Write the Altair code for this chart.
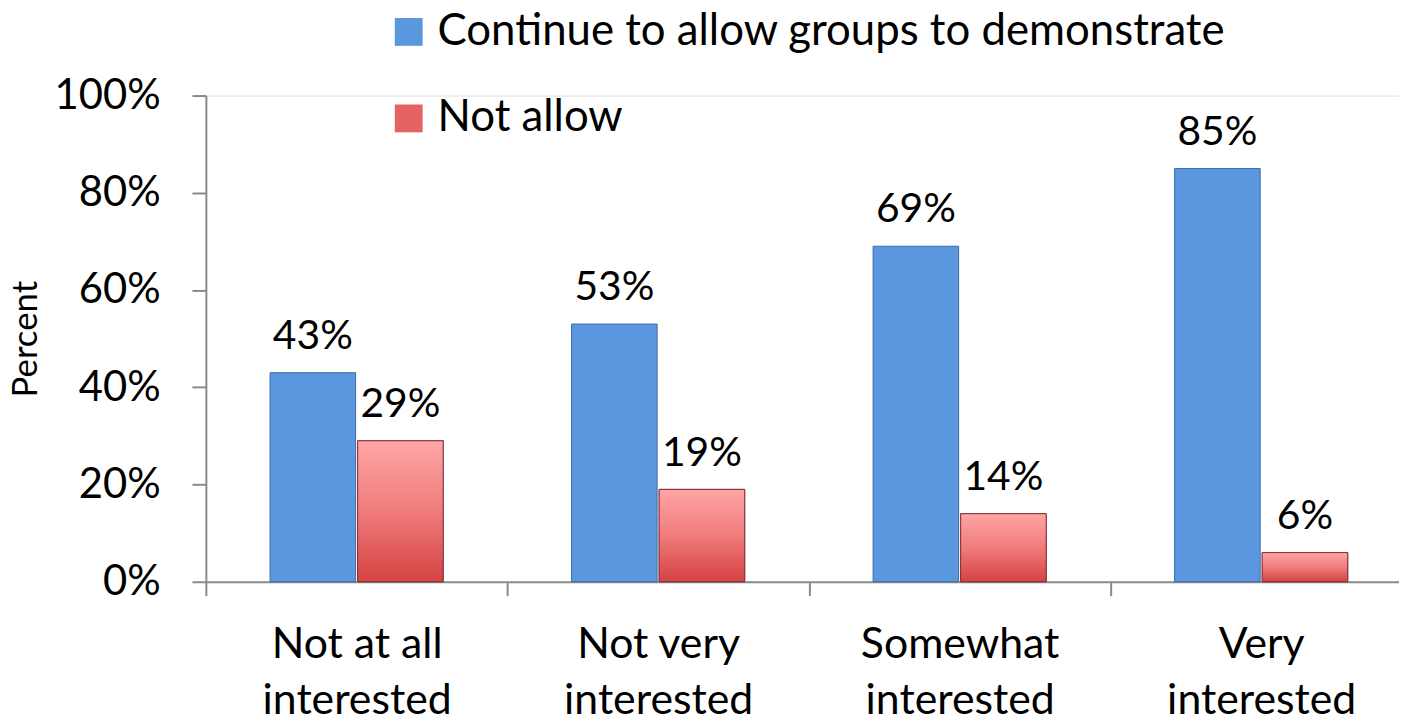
import altair as alt
import pandas as pd

categories = ["Not at all|interested", "Not very|interested", "Somewhat|interested", "Very|interested"]
series = ["Continue to allow groups to demonstrate", "Not allow"]
continue_vals = [43, 53, 69, 85]
not_allow_vals = [29, 19, 14, 6]
y_ticks = [0, 20, 40, 60, 80, 100]

rows = []
for c, v in zip(categories, continue_vals):
    rows.append({"category": c, "series": series[0], "value": v})
for c, v in zip(categories, not_allow_vals):
    rows.append({"category": c, "series": series[1], "value": v})
df = pd.DataFrame(rows)
df["label"] = df["value"].astype(str) + "%"

FONT = "Lato"

x = alt.X(
    "category:N",
    sort=categories,
    scale=alt.Scale(range=[0, 1213], paddingInner=0, paddingOuter=0),
    axis=alt.Axis(
        title=None,
        labelExpr="isValid(datum.value) ? split(datum.value, '|') : ''",
        tickBand="extent",
        labelAngle=0,
        labelFont=FONT,
        labelFontSize=43,
        labelLineHeight=57,
        labelBaseline="top",
        labelPadding=28,
        labelLimit=0,
        labelColor="black",
        tickSize=14,
        tickColor="#8a8a8a",
        tickWidth=2,
        domainColor="#8a8a8a",
        domainWidth=2,
        grid=False,
    ),
)
xo = alt.XOffset(
    "series:N",
    sort=series,
    scale=alt.Scale(domain=series, paddingInner=0.023, paddingOuter=0.733),
)
y = alt.Y(
    "value:Q",
    scale=alt.Scale(domain=[0, 100], nice=False, zero=True),
    axis=alt.Axis(
        title="Percent",
        titleFont=FONT,
        titleFontSize=35,
        titleFontWeight="normal",
        titleColor="black",
        titlePadding=11,
        values=y_ticks,
        labelExpr="datum.value + '%'",
        labelFont=FONT,
        labelFontSize=42,
        labelColor="black",
        labelPadding=32,
        tickSize=14,
        tickColor="#8a8a8a",
        tickWidth=2,
        domainColor="#8a8a8a",
        domainWidth=2,
        grid=False,
    ),
)

base = alt.Chart(df)

bars = base.mark_bar(stroke="#3d6aa5", strokeWidth=1).encode(
    x=x,
    xOffset=xo,
    y=y,
    color=alt.Color(
        "series:N",
        sort=series,
        scale=alt.Scale(domain=series, range=["#5B97DF", "#E46262"]),
        legend=alt.Legend(
            title=None,
            orient="none",
            legendX=182,
            legendY=-86,
            direction="vertical",
            symbolType="square",
            symbolSize=784,
            symbolStrokeWidth=0,
            labelFont=FONT,
            labelFontSize=44,
            labelColor="black",
            labelOffset=7,
            labelLimit=0,
            rowPadding=43,
        ),
    ),
)

red = base.transform_filter(alt.datum.series == series[1]).mark_bar(
    fill={
        "gradient": "linear",
        "x1": 0, "y1": 0, "x2": 0, "y2": 1,
        "stops": [
            {"offset": 0, "color": "#FFA5A5"},
            {"offset": 0.5, "color": "#F07C7C"},
            {"offset": 1, "color": "#D54242"},
        ],
    },
    stroke="#8e2b2b",
    strokeWidth=1,
).encode(x=x, xOffset=xo, y=y)

labels = base.mark_text(
    font=FONT, fontSize=41, color="black", baseline="alphabetic", dy=-24
).encode(x=x, xOffset=xo, y=y, text="label:N")

chart = (
    alt.layer(bars, red, labels)
    .properties(
        width=1200,
        height=489,
        autosize=alt.AutoSizeParams(type="none"),
        padding={"left": 199, "top": 86, "right": 0, "bottom": 140},
    )
    .configure_view(stroke=None)
    .configure(background="white")
)

chart.save("out.html", embed_options={"renderer": "svg", "actions": False})
